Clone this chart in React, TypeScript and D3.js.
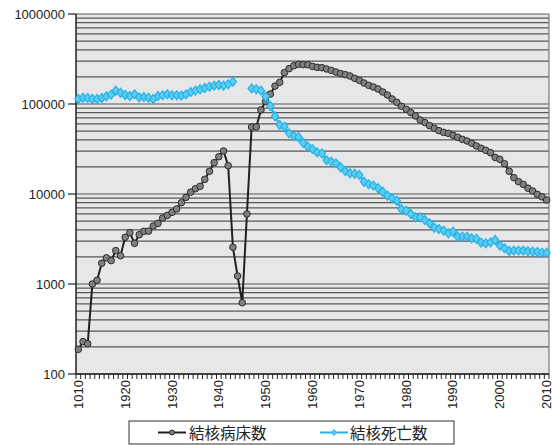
import React from "react";
import * as d3 from "d3";

// categories: one per year 1910..2010 (first label is printed as "1010" in the source)
const years = d3.range(1910, 2011);
const yearLabels = ["1010", "1920", "1930", "1940", "1950", "1960", "1970", "1980", "1990", "2000", "2010"];
const yTickValues = [100, 1000, 10000, 100000, 1000000];

// 結核病床数 (1910..2010)
const bedCounts = [
  188, 229, 217, 1000, 1100, 1700, 1950, 1820, 2350, 2060,
  3300, 3720, 2830, 3530, 3850, 3870, 4400, 4720, 5410, 5790,
  6250, 6810, 8000, 9180, 10500, 11450, 12170, 14550, 17860, 22280,
  25960, 30040, 20650, 2560, 1228, 620, 6000, 55500, 55500, 85800,
  107000, 129000, 158000, 174000, 223000, 247000, 266000, 276000, 274000, 273000,
  262000, 255500, 253300, 244900, 236600, 226800, 217400, 211800, 204800, 192900,
  183300, 171100, 161200, 154400, 146800, 135900, 125900, 113700, 104400, 94300,
  87400, 80200, 73600, 66400, 62100, 57500, 53700, 50600, 48400, 47200,
  44900, 42700, 40500, 38800, 36600, 34200, 32200, 30600, 28800, 25500,
  24300, 21700, 17900, 15200, 13700, 12800, 11600, 10800, 9900, 9300,
  8570,
];

// 結核死亡数 (1910..2010, no data 1944-1946)
const deathCounts = [
  113700, 117500, 116600, 113700, 113700, 116600, 121600, 127000, 140700, 133600,
  125900, 122700, 128000, 118500, 119600, 117500, 113700, 122700, 124800, 128000,
  124800, 124800, 123800, 128000, 135900, 140700, 145600, 150600, 155900, 160000,
  162700, 160000, 165600, 177100, null, null, null, 149000, 145600, 140700,
  120500, 95000, 73000, 58500, 56000, 47200, 44000, 43000, 37100, 33500,
  31600, 29000, 28300, 23700, 22900, 21900, 19800, 18000, 17000, 16800,
  16300, 13700, 12800, 12400, 11600, 10600, 9580, 8950, 8430, 6760,
  6530, 5990, 5510, 5510, 5140, 4720, 4220, 4080, 3920, 3660,
  3810, 3360, 3360, 3360, 3220, 3190, 2880, 2830, 2900, 3080,
  2670, 2490, 2330, 2350, 2350, 2350, 2310, 2290, 2270, 2230,
  2230,
];

const W = 553;
const H = 445;
const left = 76, right = 549, top = 14, bottom = 374;
const font = "'Liberation Sans', Arial, sans-serif";
const cjk = "'Noto Sans CJK JP', sans-serif";
const blue = "#22b2e6";

const App = () => {
  const x = d3.scaleBand<number>().domain(years).range([left, right]);
  const y = d3.scaleLog().domain([100, 1000000]).range([bottom, top]);
  const cx = (yr: number) => (x(yr) as number) + x.bandwidth() / 2;

  // gridlines at 1..9 x each decade
  const grid: number[] = [];
  [100, 1000, 10000, 100000].forEach(d => {
    for (let k = 1; k < 10; k++) grid.push(k * d);
  });
  grid.push(1000000);

  const line = d3.line<number | null>()
    .defined(d => d != null)
    .x((d, i) => cx(years[i]))
    .y(d => y(d as number));

  const diamond = "M0,-4.5L3.6,0L0,4.5L-3.6,0Z";

  return (
    <svg width={W} height={H} style={{ position: "absolute", left: 0, top: 0, background: "#fff" }}>
      <rect x={left} y={top} width={right - left} height={bottom - top} fill="#e6e7e8" />
      {grid.map(v => (
        <line key={v} x1={left} x2={right} y1={y(v)} y2={y(v)} stroke="#585858" strokeWidth={1.2} />
      ))}
      <line x1={right} x2={right} y1={top} y2={bottom} stroke="#777" strokeWidth={1.2} />
      {/* y axis */}
      <line x1={left} x2={left} y1={top} y2={bottom} stroke="#222" strokeWidth={1.5} />
      {yTickValues.map(v => (
        <g key={v}>
          <line x1={left - 8} x2={left} y1={y(v)} y2={y(v)} stroke="#222" strokeWidth={1.2} />
          <text x={left - 11} y={y(v)} dy="0.35em" textAnchor="end" fontFamily={font} fontSize={13} fill="#222">
            {v}
          </text>
        </g>
      ))}
      {/* x axis */}
      <line x1={left} x2={right} y1={bottom} y2={bottom} stroke="#222" strokeWidth={1.5} />
      {years.map(yr => (
        <line key={yr} x1={x(yr)} x2={x(yr)} y1={bottom} y2={bottom + 5} stroke="#222" strokeWidth={1} />
      ))}
      <line x1={right} x2={right} y1={bottom} y2={bottom + 5} stroke="#222" strokeWidth={1} />
      {yearLabels.map((lab, i) => {
        const px = cx(years[i * 10]);
        return (
          <text key={lab + i} transform={`translate(${px + 4.5},${bottom + 6}) rotate(-90)`} textAnchor="end"
            fontFamily={font} fontSize={13} fill="#222">
            {lab}
          </text>
        );
      })}
      {/* 結核病床数 */}
      <path d={line(bedCounts) || ""} fill="none" stroke="#231f20" strokeWidth={2} />
      {bedCounts.map((v, i) => (
        <circle key={i} cx={cx(years[i])} cy={y(v)} r={3.3} fill="#808080" stroke="#2b2b2b" strokeWidth={1} />
      ))}
      {/* 結核死亡数 */}
      <path d={line(deathCounts) || ""} fill="none" stroke={blue} strokeWidth={2} />
      {deathCounts.map((v, i) => v == null ? null : (
        <path key={i} d={diamond} transform={`translate(${cx(years[i])},${y(v)})`} fill="#5fcdf3" stroke={blue} strokeWidth={1.2} />
      ))}
      {/* legend */}
      <rect x={129} y={421} width={325} height={23} fill="#fff" stroke="#333" strokeWidth={1} />
      <line x1={158} x2={186} y1={432.5} y2={432.5} stroke="#231f20" strokeWidth={2} />
      <circle cx={172} cy={432.5} r={2.5} fill="#808080" stroke="#2b2b2b" strokeWidth={1} />
      <text x={189} y={438.5} fontFamily={cjk} fontSize={15.5} fill="#222">結核病床数</text>
      <line x1={320} x2={348} y1={432.5} y2={432.5} stroke={blue} strokeWidth={2} />
      <path d="M0,-3L2.4,0L0,3L-2.4,0Z" transform="translate(334,432.5)" fill="#5fcdf3" stroke={blue} strokeWidth={1} />
      <text x={350} y={438.5} fontFamily={cjk} fontSize={15.5} fill="#222">結核死亡数</text>
    </svg>
  );
};

export default App;
